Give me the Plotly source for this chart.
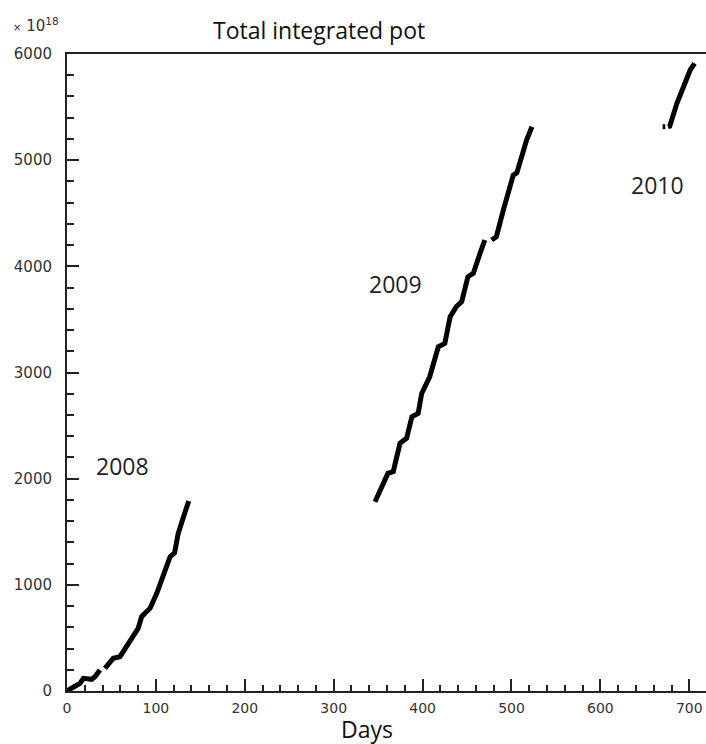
import plotly.graph_objects as go

# ---- data (days, integrated pot in units of 1e18) ----
days_2008 = [0, 1.5, 8, 14.6, 18.4, 27.7, 31.5, 37, None, 42.7, 48.4, 52, 59.6, 65, 72.8, 80, 84,
             87.7, 93.4, 101, 108, 110, 116, 121, 125, 131, 137]
pot_2008 = [0, 9, 40, 72, 119, 110, 135, 198, None, 214, 276, 308, 323, 386, 496, 590, 700,
            732, 779, 920, 1077, 1140, 1265, 1300, 1480, 1640, 1790]

days_2009 = [346.5, 356, 361, 367, 374.6, 382, 388, 395, 399, 408, 417.7, 425, 431, 438, 444,
             451, 457, 464.6, 470, None, 477.7, 483, 490.8, 498, 502, 506, 509.5, 517, 523]
pot_2009 = [1783, 1956, 2050, 2066, 2333, 2380, 2584, 2615, 2803, 2960, 3243, 3274, 3525, 3620, 3667,
            3902, 3933, 4122, 4248, None, 4248, 4279, 4530, 4760, 4860, 4880, 4993, 5190, 5315]

days_2010 = [670, 673, None, 676, 678, 686, 691.5, 697, 701, 706]
pot_2010 = [5315, 5315, None, 5315, 5320, 5534, 5660, 5755, 5849, 5912]

year_labels = ["2008", "2009", "2010"]
label_days = [62, 369, 664]
label_pots = [2119, 3833, 4766]

x_ticks = [0, 100, 200, 300, 400, 500, 600, 700]
y_ticks = [0, 1000, 2000, 3000, 4000, 5000, 6000]

fig = go.Figure()
for d, p in [(days_2008, pot_2008), (days_2009, pot_2009), (days_2010, pot_2010)]:
    fig.add_trace(go.Scatter(x=d, y=p, mode="lines",
                             line=dict(color="black", width=5),
                             connectgaps=False, showlegend=False, hoverinfo="skip"))

for t, xd, yd in zip(year_labels, label_days, label_pots):
    fig.add_annotation(x=xd, y=yd, text=t, showarrow=False,
                       font=dict(family="Open Sans", size=23, color="#222"))

# exponent label, title and axis title as paper annotations
fig.add_annotation(xref="paper", yref="paper", x=-0.088, y=1.045, xanchor="left", yanchor="middle",
                   text="<span style='font-size:10px'>×</span> 10<sup>18</sup>", showarrow=False,
                   font=dict(family="DejaVu Sans", size=15, color="#333"))
fig.add_annotation(xref="paper", yref="paper", x=0.395, y=1.0377, xanchor="center", yanchor="middle",
                   text="Total integrated pot", showarrow=False,
                   font=dict(family="Open Sans", size=23, color="#111"))
fig.add_annotation(xref="paper", yref="paper", x=0.47, y=-0.06, xanchor="center", yanchor="middle",
                   text="Days", showarrow=False,
                   font=dict(family="Open Sans", size=23, color="#111"))

fig.update_layout(
    width=706, height=744,
    margin=dict(l=67, r=0, t=54, b=53),
    plot_bgcolor="white", paper_bgcolor="white",
    xaxis=dict(range=[0, 718.8], tickvals=x_ticks, ticks="inside", ticklen=12, tickwidth=1.5,
               tickcolor="#222", showline=True, linecolor="#222", linewidth=2, mirror=True,
               showgrid=False, zeroline=False, automargin=False, ticklabelstandoff=3,
               minor=dict(dtick=20, ticks="inside", ticklen=6, tickwidth=1.5, tickcolor="#222"),
               tickfont=dict(family="DejaVu Sans", size=14, color="#333")),
    yaxis=dict(range=[0, 6000], tickvals=y_ticks, ticks="inside", ticklen=12, tickwidth=1.5,
               tickcolor="#222", showline=True, linecolor="#222", linewidth=2,
               showgrid=False, zeroline=False, automargin=False, ticklabelstandoff=10,
               minor=dict(dtick=200, ticks="inside", ticklen=7, tickwidth=1.5, tickcolor="#222"),
               tickfont=dict(family="DejaVu Sans", size=15, color="#333")),
)

# remove the default page margin so the 706x744 figure fills the window exactly
fig.write_html("out.html", config={"displayModeBar": False},
               post_script="document.body.style.margin='0';document.body.style.overflow='hidden';")
